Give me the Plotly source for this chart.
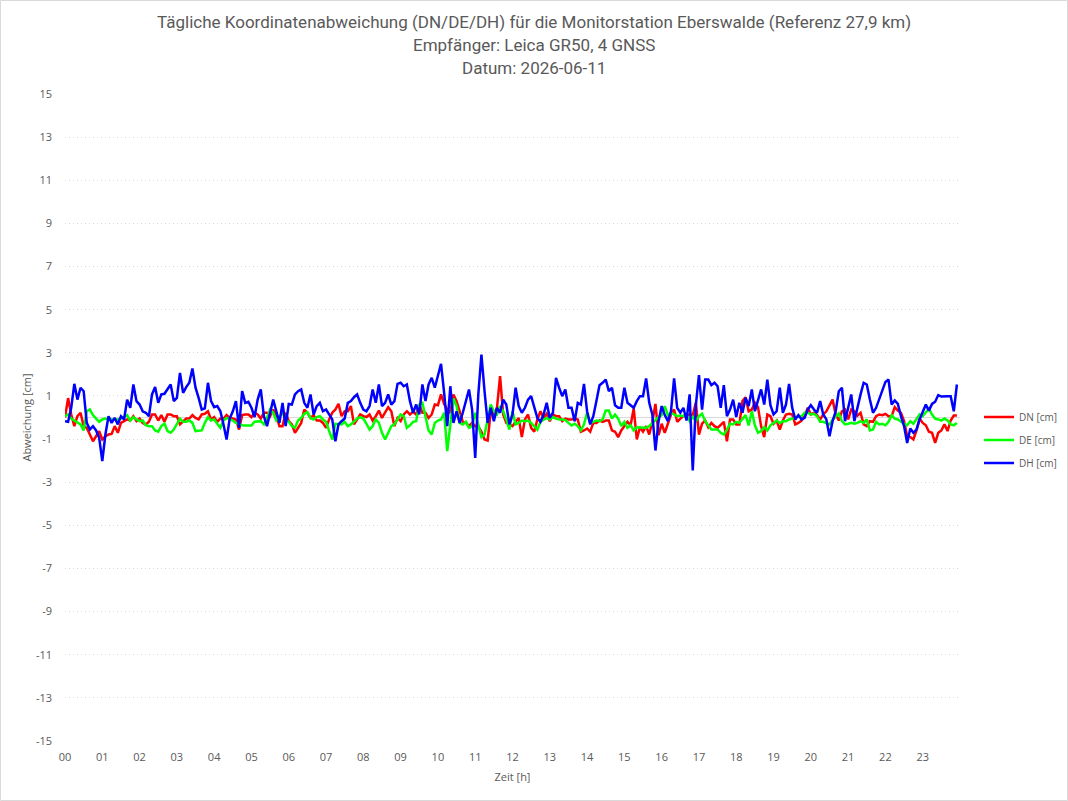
import numpy as np
import plotly.graph_objects as go

# 5-minute samples over the day (288 per series), values in cm
dn = [0.0, 0.9, 0.14, -0.4, 0.06, 0.22, -0.4, -0.48, -0.79, -1.1, -0.87, -0.63, -1.02, -0.87, -0.79, -0.76, -0.4, -0.71, -0.25, -0.17,
      -0.09, -0.14, 0.06, -0.17, -0.05, -0.25, -0.32, -0.2, 0.14, 0.14, -0.14, 0.11, -0.2, 0.14, 0.14, 0.06,
      0.06, -0.32, -0.17, -0.05, -0.05, 0.11, -0.02, -0.09, 0.14, 0.17, 0.29, -0.09, 0.02, -0.2, -0.05, -0.05, 0.11, -0.02, -0.05, -0.09,
      -0.56, 0.11, 0.14, 0.14, 0.02, 0.22, 0.14, -0.05, 0.22, 0.22, 0.06, 0.37, 0.11, -0.4, -0.4,
      0.22, -0.17, -0.32, -0.71, -0.48, -0.25, 0.37, 0.22, -0.02, 0.11, -0.14, -0.14, -0.25, -0.48, -0.09, 0.22, 0.37, 0.63, 0.06, 0.29,
      0.29, 0.53, -0.32, -0.09, 0.14, 0.06, 0.02, 0.14, -0.14, 0.06, 0.32, -0.02, 0.22, 0.48, 0.29,
      -0.4, -0.02, -0.17, 0.14, 0.29, 0.14, 0.26, 0.14, 0.6, 0.22, 0.22, -0.02, 0.14, 0.6, 0.57, 1.07, 0.63, 0.37, 0.22, 1.07,
      0.76, 0.29, -0.2, -0.25, -0.4, -0.25, -0.4, -0.4, -0.66, -1.02, -1.07, 0.29, 0.14, 0.45, 1.92, 0.14,
      -0.25, -0.32, -0.4, -0.2, -0.02, -0.91, -0.09, 0.14, -0.48, -0.66, -0.09, 0.29, -0.02, 0.17, -0.17, 0.14, 0.06, 0.06, -0.17, -0.05,
      -0.09, -0.09, -0.05, -0.09, -0.66, -0.6, -0.51, -0.66, -0.25, -0.25, -0.14, -0.2, -0.14, -0.14, -0.6,
      -0.66, -0.91, -0.6, -0.4, -0.2, -0.36, 0.42, -1.02, -0.45, -0.66, -0.4, -0.79, -0.2, 0.63, -0.82, -0.29, -0.71, -0.29, 0.14, 0.37,
      -0.2, -0.05, 0.06, 0.11, 0.14, 0.11, 0.68, -0.79, -0.29, -0.14, -0.45, -0.25, -0.4, -0.48, -0.32, -0.2,
      -1.1, -0.09, -0.09, -0.32, -0.32, 0.76, 0.94, 0.29, 0.37, 0.68, 0.48, -0.4, -0.91, 0.14, 0.06, -0.29, -0.14, -0.56, -0.14, 0.14,
      0.17, 0.14, -0.32, -0.25, -0.14, 0.06, 0.45, 0.14, 0.22, 0.11, -0.09, 0.14, 0.29, 0.6, 0.83, 0.14, -0.14,
      0.29, 0.37, -0.09, 0.37, 0.29, 0.09, 0.22, -0.32, -0.4, -0.17, -0.2, 0.06, 0.14, 0.11, 0.17, 0.06, 0.06, 0.48, 0.32, 0.22,
      -0.17, -0.87, -0.91, -1.02, -0.6, -0.05, -0.25, -0.36, -0.66, -0.71, -1.18, -0.71, -0.6, -0.32, -0.63, -0.14, 0.09, 0.09]

de = [0.06, 0.14, -0.05, -0.14, -0.2, -0.32, -0.6, 0.29, 0.37, 0.11, -0.05, -0.2, -0.09, -0.05, -0.09, -0.09, -0.09, -0.09, -0.05, 0.02,
      0.11, -0.14, 0.02, -0.09, -0.17, -0.14, -0.36, -0.4, -0.4, -0.6, -0.66, -0.4, -0.28, -0.63, -0.71, -0.56,
      -0.29, -0.05, -0.2, -0.2, -0.14, -0.25, -0.63, -0.63, -0.6, -0.25, 0.02, -0.14, -0.09, -0.29, -0.48, -0.14, -0.02, -0.09, -0.14, -0.25,
      -0.32, -0.36, -0.37, -0.37, -0.37, -0.2, -0.2, -0.17, -0.32, -0.02, 0.37, 0.22, -0.14, 0.02, 0.22,
      -0.09, -0.2, -0.4, -0.48, -0.14, -0.02, 0.17, 0.25, -0.02, -0.09, 0.02, 0.06, -0.09, -0.2, -0.63, -1.02, -0.29, -0.32, -0.32, -0.2,
      -0.4, -0.32, -0.17, -0.05, 0.02, -0.05, -0.29, -0.56, -0.4, -0.09, -0.25, -0.71, -1.02, -0.71, -0.4,
      -0.32, -0.09, 0.14, 0.06, -0.48, -0.36, -0.2, -0.17, 0.6, 0.68, 0.06, -0.6, -0.79, -0.25, -0.14, -0.09, 0.22, -1.56, -0.32, 0.88,
      0.53, -0.25, -0.32, -0.2, -0.48, -0.4, 0.22, -0.4, -0.91, -0.79, -0.17, 0.6, 0.29, 0.14, 0.53, 0.29,
      -0.09, -0.56, 0.29, -0.32, -0.25, -0.14, -0.17, -0.14, -0.25, -0.4, -0.56, -0.2, -0.09, -0.02, -0.09, 0.02, -0.05, -0.09, -0.09, -0.12,
      -0.25, -0.37, -0.29, -0.4, -0.6, -0.32, 0.22, -0.25, -0.2, -0.14, -0.17, -0.09, 0.32, 0.32, -0.05,
      0.14, -0.05, -0.4, -0.2, -0.48, -0.36, -0.6, -0.45, -0.45, -0.45, -0.48, -0.4, -0.25, -0.09, 0.02, 0.11, 0.53, 0.11, 0.22, 0.14,
      0.06, 0.09, 0.06, 0.14, -0.17, 0.02, -0.17, 0.06, 0.17, -0.17, -0.36, -0.56, -0.56, -0.56, -0.71, -0.79,
      -0.56, -0.29, -0.32, -0.2, -0.25, -0.05, 0.11, -0.37, 0.29, -0.36, -0.71, -0.63, -0.45, -0.6, -0.36, -0.25, -0.14, -0.26, -0.17, -0.17,
      -0.09, -0.06, 0.02, 0.06, 0.05, 0.22, 0.22, 0.14, 0.17, 0.06, -0.2, -0.2, -0.26, -0.32, -0.11, 0.06, 0.19,
      -0.17, -0.32, -0.29, -0.25, -0.29, -0.25, -0.17, -0.25, -0.09, -0.6, -0.56, -0.2, -0.32, -0.29, -0.36, -0.2, 0.11, -0.05, -0.09, -0.2,
      -0.29, -0.36, -0.17, -0.29, -0.09, 0.14, 0.06, 0.26, 0.42, 0.14, -0.05, -0.09, -0.14, -0.05, -0.14, -0.32, -0.36, -0.25]

dh = [-0.17, -0.2, 0.45, 1.56, 0.83, 1.38, 1.22, -0.25, -0.56, -0.4, -0.6, -0.94, -2.02, -0.79, 0.06, -0.25, -0.02, -0.32, 0.06, -0.09,
      0.83, 0.45, 1.53, 0.76, 0.6, 0.29, 0.22, 0.06, 1.07, 1.41, 0.68, 1.07, 1.1, 1.3, 1.53, 0.76,
      0.91, 2.07, 1.14, 1.41, 1.61, 2.27, 1.38, 0.91, 0.37, 0.42, 1.61, 0.76, 0.48, 0.53, 0.29, -0.32, -1.02, -0.05, 0.29, 0.76,
      -0.48, 1.22, 0.68, 0.73, 0.45, 0.02, 0.83, 1.3, 0.06, -0.4, 0.29, 0.83, 0.29, -0.25, 0.68,
      -0.4, 0.63, 0.6, 1.07, 1.22, 1.3, 0.68, 0.45, 1.07, 0.14, 0.53, 0.68, 0.29, 0.37, 0.14, -0.09, -1.1, -0.32, -0.17, -0.05,
      0.68, 0.76, 0.94, 1.07, 0.68, 0.37, 0.29, 0.53, 1.3, 0.68, 1.53, 0.53, 0.68, 1.07, 0.6,
      0.76, 1.56, 1.61, 1.45, 1.53, 0.76, 0.22, 0.6, 0.14, 1.53, 0.76, 1.53, 1.84, 1.38, 1.99, 2.49, 1.14, -0.4, 1.45, -0.25,
      0.29, -0.25, 0.22, 0.83, 1.3, 0.37, -1.87, 1.07, 2.92, 1.22, -0.25, 0.45, -0.17, 0.45, 0.22, 0.83,
      0.6, -0.32, 0.14, 1.38, 0.53, 0.22, 0.45, 0.83, 0.99, 0.48, -0.02, -0.2, 0.14, 0.68, -0.02, 0.22, 1.84, 1.38, 0.99, 1.3,
      0.45, 0.45, -0.17, 0.68, 0.6, 1.56, 0.29, -0.32, 0.06, 0.76, 1.5, 1.61, 1.76, 1.22, 1.38,
      0.57, 0.45, 0.45, 1.38, 0.68, 0.56, 0.45, 0.76, 0.99, 0.99, 1.81, 0.68, 0.14, -1.53, -0.17, 0.53, 0.11, -0.17, 0.29, 1.81,
      0.45, 0.22, 0.45, -0.14, 1.07, -2.45, 0.57, 1.96, 0.37, 1.76, 1.76, 1.5, 1.61, 1.45, 0.45, 1.5,
      0.06, 0.37, 0.83, 0.02, 0.68, 0.22, 0.91, 0.53, 1.3, 0.29, 0.83, 1.3, 0.6, 1.76, 0.57, 0.14, 0.29, 1.38, 0.22, 0.6,
      1.56, 0.45, -0.09, 0.11, -0.09, -0.02, 0.37, 0.57, 0.37, 0.22, 0.76, 0.14, -0.09, -0.87, -0.17, 0.29, 1.22,
      1.38, -0.17, 0.45, 1.07, -0.17, 0.53, 1.07, 1.61, 1.53, 0.83, 0.22, 0.45, 0.83, 1.3, 1.65, 1.76, 0.6, 0.79, 0.63, 0.06,
      -0.4, -1.18, -0.51, -0.71, -0.56, -0.09, 0.29, 0.6, 0.32, 0.63, 0.73, 1.04, 0.97, 0.99, 0.99, 0.99, 0.29, 1.53]

step_min = 5
hour_ticks = list(range(24))
hour_labels = [f"{h:02d}" for h in hour_ticks]
y_ticks = list(range(15, -16, -2))
y_labels = [str(v) for v in y_ticks]

series_names = ["DN [cm]", "DE [cm]", "DH [cm]"]
series_colors = ["#ff0000", "#00ff00", "#0000ff"]
series_values = [dn, de, dh]

title_lines = ["Tägliche Koordinatenabweichung (DN/DE/DH) für die Monitorstation Eberswalde (Referenz 27,9 km)",
               "Empfänger: Leica GR50, 4 GNSS",
               "Datum: 2026-06-11"]

W, H = 1068, 801
ML, MR, MT, MB = 65, 108, 94, 60
PW, PH = W - ML - MR, H - MT - MB

fig = go.Figure()
for name, color, vals in zip(series_names, series_colors, series_values):
    t = np.arange(len(vals)) * step_min / 60.0
    fig.add_trace(go.Scatter(x=t, y=vals, mode="lines", name=name, legendgroup=name,
                             line=dict(color=color, width=2.5)))

grey = "#595959"
title_y_px = [22, 45, 68]
annotations = []
for line, ypx in zip(title_lines, title_y_px):
    annotations.append(dict(text=line, xref="paper", yref="paper",
                            x=(W / 2 - ML) / PW, y=(H - MB - ypx) / PH,
                            xanchor="center", yanchor="middle", showarrow=False,
                            font=dict(family="Roboto, sans-serif", size=17, color=grey)))

fig.update_layout(
    width=W, height=H,
    margin=dict(l=ML, r=MR, t=MT, b=MB, autoexpand=False),
    paper_bgcolor="white", plot_bgcolor="white",
    font=dict(family="Open Sans, sans-serif", color=grey, size=11),
    annotations=annotations,
    showlegend=True,
    legend=dict(x=(979 - ML) / PW, xanchor="left", y=(H - MB - 440) / PH, yanchor="middle",
                font=dict(size=10, color=grey), tracegroupgap=4, itemwidth=30,
                bgcolor="rgba(0,0,0,0)"),
    xaxis=dict(range=[0, 24], tickmode="array", tickvals=hour_ticks, ticktext=hour_labels,
               showgrid=False, zeroline=False, showline=False, ticks="",
               ticklabelstandoff=8, tickfont=dict(size=11, color=grey),
               title=dict(text="Zeit [h]", standoff=10, font=dict(size=11, color=grey)),
               automargin=False, fixedrange=True),
    yaxis=dict(range=[-15, 15], tickmode="array", tickvals=y_ticks, ticktext=y_labels,
               showgrid=True, gridcolor="#d9d9d9", griddash="1px,3px", gridwidth=1,
               zeroline=True, zerolinecolor="#d9d9d9", zerolinewidth=1,
               showline=False, ticks="", ticklabelstandoff=12, tickfont=dict(size=11, color=grey),
               title=dict(text="Abweichung [cm]", standoff=2, font=dict(size=11, color=grey)),
               automargin=False, fixedrange=True),
    shapes=[dict(type="rect", xref="paper", yref="paper",
                 x0=(-ML + 0.5) / PW, x1=(W - ML - 0.5) / PW,
                 y0=(-MB + 0.5) / PH, y1=(H - MB - 0.5) / PH,
                 line=dict(color="#d9d9d9", width=1), fillcolor="rgba(0,0,0,0)", layer="below")],
)

fig.write_html("out.html")
